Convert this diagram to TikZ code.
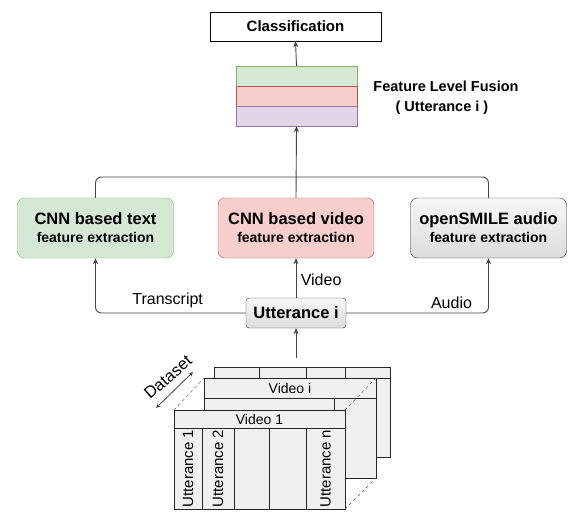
\documentclass[tikz,border=0pt]{standalone}
\usepackage{fontspec}
\setmainfont{Liberation Sans}
\usetikzlibrary{arrows.meta,positioning}
\definecolor{txtgreen}{HTML}{D5E8D4}
\definecolor{txtgreenln}{HTML}{82B366}
\definecolor{vidred}{HTML}{F8CECC}
\definecolor{vidredln}{HTML}{B85450}
\definecolor{fusepurple}{HTML}{E1D5E7}
\definecolor{fusepurpleln}{HTML}{9673A6}
\definecolor{audgraytop}{HTML}{F7F7F7}
\definecolor{audgraybot}{HTML}{DCDCDC}
\definecolor{cellgray}{HTML}{F0F0F0}
\definecolor{lineclr}{HTML}{444444}
\newcommand{\fsz}[2]{\fontsize{#1}{#2}\selectfont}

\begin{document}
\begin{tikzpicture}[x=1pt,y=-1pt,every node/.style={font=\fsz{16}{19}},
    featbox/.style={draw,rounded corners=7pt,minimum width=156pt,minimum height=60pt,align=center},
    band/.style={minimum width=121pt,minimum height=20pt},
    cell/.style={draw=black!85,fill=cellgray},
    link/.style={draw=lineclr,line width=0.9pt},
    >={Stealth[length=6pt,width=5pt]}]
  \useasboundingbox (0,0) rectangle (580,522);

  % top part
  \node[draw,fill=white,minimum width=171pt,minimum height=29pt,font=\bfseries\fsz{15}{18}] (cls) at (295.5,26.5) {Classification};
  \node[band,draw=txtgreenln,fill=txtgreen] (fgreen) at (296.5,76) {};
  \node[band,draw=vidredln,fill=vidred] (fred) at (296.5,96) {};
  \node[band,draw=fusepurpleln,fill=fusepurple] (fpurple) at (296.5,116) {};
  \node[align=center,font=\bfseries\fsz{14.5}{20}] (fuselbl) at (446,98) {Feature Level Fusion\\( Utterance i )~~~};
  \draw[link,->] (fgreen.north) -- (cls.south);

  % feature extraction boxes
  \node[featbox,draw=txtgreenln,fill=txtgreen] (textbox) at (95.5,228) {\bfseries\fsz{16.5}{19}CNN based text\\[-1pt]\bfseries\fsz{14}{17}feature extraction};
  \node[featbox,draw=vidredln,fill=vidred] (videobox) at (296,228) {\bfseries\fsz{16.5}{19}CNN based video\\[-1pt]\bfseries\fsz{14}{17}feature extraction};
  \node[featbox,draw=black!80,top color=audgraytop,bottom color=audgraybot] (audiobox) at (488.5,228) {\bfseries\fsz{16.5}{19}openSMILE audio\\[-1pt]\bfseries\fsz{14}{17}feature extraction};

  \coordinate (merge) at (296.5,177);
  \draw[link,rounded corners=6pt] (textbox.north) |- (merge);
  \draw[link,rounded corners=6pt] (audiobox.north) |- (merge);
  \draw[link,->] (videobox.north) -- (fpurple.south);

  % utterance
  \node[draw=black!80,rounded corners=3pt,top color=audgraytop,bottom color=audgraybot,minimum width=100pt,minimum height=30pt,font=\bfseries\fsz{16.5}{19}] (utt) at (296,313) {Utterance i};
  \draw[link,->,rounded corners=6pt] (utt.west) -| node[pos=0.26,above=1pt] {Transcript} (textbox.south);
  \draw[link,->,rounded corners=6pt] (utt.east) -| node[pos=0.37,above=1pt] {Audio} (audiobox.south);
  \draw[link,->] (utt.north) -- node[right=1pt,pos=0.45] {Video} (videobox.south);

  % dataset cube
  \draw[cell] (214,367) rectangle (390,457);
  \draw[black!85] (214,378) -- (390,378);
  \foreach \xv in {259,306,345} \draw[black!85] (\xv,367) -- (\xv,378);
  \draw[cell] (204,378) rectangle (376,478);
  \draw[black!85] (204,398) -- (376,398);
  \draw[black!85] (334,398) -- (334,410);
  \node[font=\fsz{14}{17}] (vidi) at (290,388) {Video i};
  \draw[cell] (174,410) rectangle (345,509);
  \draw[black!85] (174,428) -- (345,428);
  \foreach \xv in {202,234,269,306} \draw[black!85] (\xv,428) -- (\xv,509);
  \node[font=\fsz{14}{17}] (vidone) at (259.5,419) {Video 1};
  \node[rotate=90,font=\fsz{15}{18}] (uone) at (188,468.5) {Utterance 1};
  \node[rotate=90,font=\fsz{15}{18}] (utwo) at (218,468.5) {Utterance 2};
  \node[rotate=90,font=\fsz{15}{18}] (un) at (325.5,468.5) {Utterance n};
  \draw[lineclr,dashed] (174,410) -- (204,378);
  \draw[lineclr,dashed] (345,410) -- (376,378);
  \draw[lineclr,dashed] (345,509) -- (376,478);
  \node[rotate=41,font=\fsz{16.5}{19},inner sep=0pt] (dslbl) at (168,377) {Dataset};
  \draw[lineclr,line width=0.8pt,<->,>={Stealth[length=4.5pt,width=4pt]}] (156,408) -- (193,372);

  \coordinate (dsout) at (296,358);
  \draw[link,->] (dsout) -- (utt.south);
\end{tikzpicture}
\end{document}
